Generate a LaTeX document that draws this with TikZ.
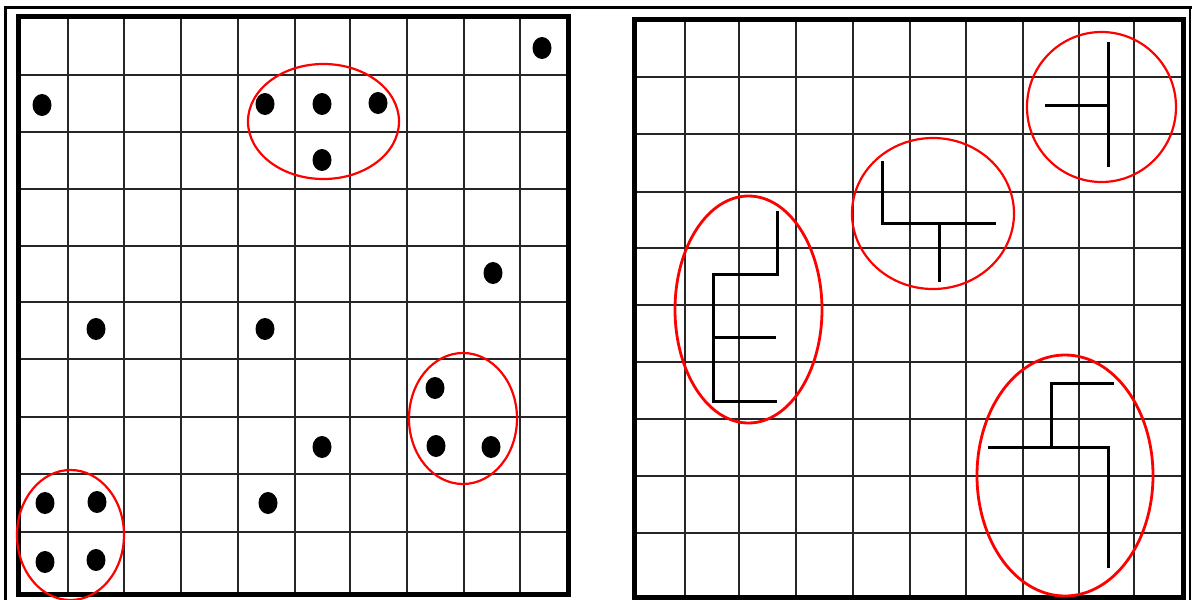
\documentclass[tikz,border=0pt]{standalone}
\begin{document}
\begin{tikzpicture}[x=1pt,y=-1pt,
  gridline/.style={black!85,line width=1.4pt},
  panelframe/.style={black,line width=5pt},
  outerline/.style={black,line width=3pt},
  dot/.style={fill=black},
  ring/.style={red,line width=2.2pt},
  bigring/.style={red,line width=2.8pt},
  stroke/.style={black,line width=3pt}]
\useasboundingbox (0,0) rectangle (1195,600);
\begin{scope}
\clip (0,0) rectangle (1195,600);
% outer border
\draw[outerline] (4,7.5) -- (1192,7.5);
\draw[outerline] (5.5,6) -- (5.5,610);
\draw[black,line width=1.8pt] (1190,6) -- (1190,610);
\end{scope}
% ---------- left panel ----------
\foreach \x in {68,124,181,238,295,350,407,464,520}
  \draw[gridline] (\x,16) -- (\x,594);
\foreach \y in {75,132,189,246,302,359,417,474,532}
  \draw[gridline] (18,\y) -- (568,\y);
\draw[panelframe] (18,16) rectangle (568,594);
\foreach \p in {(542,48),(42,105),(265,104),(322,104),(378,103),(322,160),
  (493,273),(96,329),(265,329),(435,388),(436,446),(491,447),(322,447),
  (268,503),(45,503),(97,502),(45,562),(96,560)}
  \fill[dot] \p ellipse [x radius=9.5,y radius=11];
\draw[ring] (323.5,121.5) ellipse [x radius=75.5,y radius=57.5];
\draw[ring] (463,418.5) ellipse [x radius=54,y radius=65.5];
\draw[ring] (70.5,535) ellipse [x radius=53.5,y radius=65];
% ---------- right panel ----------
\foreach \x in {685,739,796,853,910,966,1023,1079,1134}
  \draw[gridline] (\x,19) -- (\x,597);
\foreach \y in {77,134,192,248,305,362,419,476,533}
  \draw[gridline] (634,\y) -- (1183,\y);
\draw[panelframe] (634,19) rectangle (1183,597);
% shape 1 (left, E-like)
\draw[stroke] (777,211) -- (777,274) -- (713,274) -- (713,401) -- (777,401);
\draw[stroke] (713,337) -- (776,337);
\draw[bigring] (748.5,309.5) ellipse [x radius=73.5,y radius=113.5];
% shape 2 (middle)
\draw[stroke] (882,161) -- (882,223) -- (996,223);
\draw[stroke] (939,223) -- (939,282);
\draw[ring] (933,213.5) ellipse [x radius=81,y radius=75.5];
% shape 3 (bottom right)
\draw[stroke] (1114,383) -- (1051,383) -- (1051,447);
\draw[stroke] (988,447) -- (1108,447) -- (1108,568);
\draw[bigring] (1065,475.5) ellipse [x radius=88,y radius=120.5];
% shape 4 (top right)
\draw[stroke] (1108,42) -- (1108,167);
\draw[stroke] (1045,105) -- (1108,105);
\draw[ring] (1101.5,107) ellipse [x radius=74.5,y radius=75];
\end{tikzpicture}
\end{document}
